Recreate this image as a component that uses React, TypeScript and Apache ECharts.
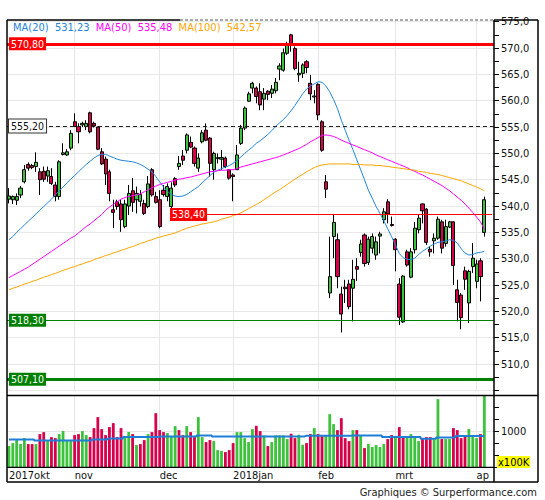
import React, { useEffect, useRef } from 'react';
import * as echarts from 'echarts';

// ---------- categories ----------
const FIRST_DAY = '2017-10-09';
const HOLIDAYS = ['2017-12-25', '2017-12-26', '2018-01-01', '2018-03-30', '2018-04-02'];
const SLOT_COUNT = 126; // 124 sessions + 2 empty slots on the right
const MONTH_LABELS: Record<string, string> = {
  '2017-10': '2017okt', '2017-11': 'nov', '2017-12': 'dec', '2018-01': '2018jan',
  '2018-02': 'feb', '2018-03': 'mrt', '2018-04': 'ap',
};

// ---------- price data: [open, close, low, high] ----------
const candles: number[][] = [
  [541.3, 541.9, 540.5, 543.4], [541.2, 541.8, 540.4, 542.0], [541.1, 541.8, 540.2, 542.4], [542.1, 543.4, 541.5, 543.8],
  [544.6, 546.9, 544.3, 547.8], [547.9, 547.2, 546.7, 548.3], [547.7, 547.3, 547.0, 548.0], [547.5, 548.3, 546.5, 550.2],
  [546.5, 545.0, 542.1, 547.2], [546.6, 545.1, 544.6, 547.5], [545.7, 546.7, 544.6, 547.5], [545.6, 544.3, 544.0, 547.2],
  [544.0, 541.8, 540.9, 544.6], [541.8, 548.4, 541.2, 548.7], [549.8, 550.1, 549.6, 551.9], [549.7, 550.3, 549.5, 550.8],
  [551.0, 553.8, 550.6, 554.4], [556.0, 555.1, 555.0, 557.6], [555.1, 554.1, 551.9, 555.7], [555.4, 555.7, 555.0, 556.0],
  [555.1, 555.7, 554.4, 556.3], [557.7, 554.1, 553.8, 557.9], [555.7, 555.2, 554.9, 556.0], [555.0, 550.8, 550.6, 555.1],
  [550.3, 548.0, 547.8, 551.0], [548.9, 546.1, 544.0, 549.4], [546.5, 542.4, 540.9, 546.9], [539.3, 538.8, 535.8, 541.2],
  [540.8, 539.9, 539.3, 541.2], [540.4, 537.4, 535.1, 541.2], [536.1, 540.4, 535.8, 541.2], [540.0, 542.4, 538.3, 544.0],
  [542.9, 540.7, 538.9, 545.3], [541.2, 542.4, 538.6, 543.7], [540.9, 542.2, 539.9, 543.0], [540.5, 538.6, 538.3, 541.2],
  [539.9, 544.2, 539.6, 545.7], [546.9, 542.1, 541.8, 547.2], [541.8, 540.7, 540.5, 542.7], [541.2, 536.1, 535.8, 543.0],
  [543.0, 542.2, 541.8, 544.0], [541.8, 543.7, 540.9, 544.3], [539.9, 543.4, 538.7, 544.5], [545.2, 544.0, 543.6, 545.5],
  [547.5, 548.1, 546.9, 549.5], [549.5, 548.7, 547.8, 550.6], [550.6, 553.5, 550.0, 553.8], [552.1, 551.2, 551.0, 553.2],
  [551.0, 548.1, 547.5, 551.3], [547.2, 549.1, 546.5, 550.0], [552.2, 553.9, 551.9, 554.4], [554.4, 552.5, 552.3, 555.7],
  [552.9, 548.1, 545.6, 553.1], [546.9, 550.0, 545.0, 550.3], [549.0, 549.2, 548.1, 550.0], [548.9, 549.2, 546.9, 550.6],
  [549.1, 547.5, 547.2, 549.4], [546.9, 545.3, 545.0, 547.0], [545.9, 545.6, 540.9, 546.2], [546.9, 549.7, 546.9, 551.6],
  [551.9, 554.8, 551.6, 555.4], [554.8, 558.6, 554.4, 558.9], [559.9, 561.3, 559.8, 561.7], [562.4, 563.3, 561.4, 563.6],
  [562.4, 560.8, 559.5, 562.7], [561.7, 559.2, 558.2, 563.3], [560.3, 561.4, 558.2, 562.4], [561.8, 561.2, 560.1, 562.0],
  [561.4, 562.2, 560.5, 563.0], [561.9, 563.5, 561.4, 564.3], [566.0, 566.6, 563.9, 567.1], [565.8, 569.1, 565.5, 569.9],
  [569.0, 570.6, 568.7, 571.2], [572.5, 570.6, 569.3, 572.7], [569.9, 566.1, 565.8, 570.3], [564.9, 565.2, 563.6, 567.4],
  [565.2, 566.8, 564.3, 567.1], [567.4, 566.3, 565.2, 567.7], [563.3, 561.3, 560.1, 564.9], [560.7, 560.9, 559.5, 562.0],
  [563.1, 557.3, 556.3, 563.3], [556.0, 550.6, 550.3, 556.3], [544.6, 543.2, 541.5, 545.9], [523.5, 526.6, 522.5, 534.2],
  [534.2, 536.9, 530.1, 538.3], [533.6, 526.6, 524.4, 534.8], [523.3, 519.5, 516.0, 524.7], [524.6, 524.3, 521.6, 526.0],
  [525.2, 520.9, 520.4, 526.0], [524.4, 526.1, 518.1, 529.8], [528.5, 528.0, 525.8, 530.1], [531.2, 532.8, 530.4, 533.6],
  [534.5, 529.1, 528.5, 534.8], [529.3, 533.7, 528.8, 534.2], [532.0, 534.2, 531.0, 534.8], [530.7, 533.2, 529.8, 534.2],
  [534.3, 534.7, 531.0, 535.1], [537.4, 538.9, 536.7, 539.6], [540.8, 538.5, 536.7, 541.3], [536.5, 536.3, 536.1, 538.0],
  [533.7, 531.7, 527.6, 533.9], [525.2, 518.9, 517.4, 526.3], [518.0, 526.7, 517.8, 526.9], [531.3, 528.8, 528.5, 531.7],
  [526.5, 531.3, 526.3, 532.0], [531.7, 535.8, 531.0, 537.0], [535.5, 537.7, 534.8, 538.3], [540.4, 539.1, 536.7, 540.5],
  [539.4, 533.1, 532.6, 539.6], [531.8, 531.3, 530.4, 532.3], [533.4, 533.9, 531.0, 534.8], [533.9, 537.5, 533.6, 538.0],
  [537.0, 532.0, 531.0, 537.4], [532.9, 536.1, 532.3, 537.4], [536.0, 537.0, 535.8, 537.2], [537.0, 528.7, 525.0, 537.1],
  [524.1, 521.7, 518.1, 526.0], [523.1, 518.8, 516.6, 523.5], [527.7, 526.1, 524.1, 528.5], [521.6, 527.6, 517.8, 527.9],
  [528.5, 530.1, 527.3, 533.0], [525.7, 529.0, 524.4, 529.8], [529.6, 526.6, 521.9, 530.1], [535.0, 541.2, 534.2, 541.8],
];

const ma20 = [
  533.6, 534.2, 535.0, 535.7, 536.4, 537.1, 537.8, 538.5, 539.2, 539.9,
  540.6, 541.3, 542.1, 542.9, 543.6, 544.4, 545.1, 545.8, 546.5, 547.2,
  547.9, 548.5, 549.1, 549.6, 549.8, 549.8, 549.5, 549.2, 548.9, 548.7,
  548.6, 548.5, 548.4, 548.2, 547.9, 547.5, 547.0, 546.5, 545.6, 544.6,
  543.6, 542.8, 542.2, 541.9, 541.8, 541.9, 542.2, 542.7, 543.2, 543.7,
  544.4, 545.1, 545.8, 546.4, 546.8, 547.1, 547.4, 547.7, 548.1, 548.7,
  549.3, 550.0, 550.6, 551.2, 551.9, 552.4, 553.0, 553.6, 554.3, 555.1,
  555.8, 556.4, 557.2, 558.1, 559.1, 560.2, 561.3, 562.2, 562.8, 563.2,
  563.6, 563.5, 562.8, 561.7, 560.2, 558.5, 556.3, 554.4, 552.5, 550.7,
  548.8, 546.9, 545.0, 543.0, 541.5, 539.9, 538.6, 537.2, 535.7, 534.2,
  532.6, 531.0, 530.2, 529.9, 529.8, 530.1, 530.8, 531.4, 531.9, 532.4,
  532.8, 533.1, 533.2, 533.4, 533.6, 533.5, 533.0, 531.9, 531.1, 530.7,
  530.8, 531.1, 531.2, 531.4,
];
const ma50 = [
  526.4, 526.8, 527.2, 527.6, 528.0, 528.4, 528.9, 529.4, 529.9, 530.4,
  530.9, 531.4, 531.9, 532.4, 532.9, 533.4, 533.9, 534.3, 534.9, 535.5,
  536.1, 536.6, 537.2, 537.8, 538.4, 539.2, 539.8, 540.3, 540.8, 541.3,
  541.6, 541.8, 542.0, 542.1, 542.3, 542.7, 543.1, 543.5, 543.8, 544.1,
  544.3, 544.5, 544.7, 544.9, 545.1, 545.2, 545.4, 545.5, 545.7, 545.9,
  546.1, 546.3, 546.5, 546.6, 546.7, 546.8, 546.8, 546.9, 546.9, 547.1,
  547.4, 547.6, 547.8, 548.0, 548.2, 548.4, 548.6, 548.8, 549.0, 549.2,
  549.4, 549.7, 550.0, 550.3, 550.6, 550.9, 551.3, 551.7, 552.2, 552.6,
  553.0, 553.4, 553.5, 553.4, 553.2, 552.9, 552.5, 552.2, 551.9, 551.6,
  551.3, 551.0, 550.7, 550.4, 550.1, 549.7, 549.4, 549.1, 548.8, 548.5,
  548.2, 547.9, 547.6, 547.3, 546.9, 546.6, 546.2, 545.9, 545.5, 545.1,
  544.7, 544.3, 543.9, 543.4, 542.9, 542.3, 541.7, 541.1, 540.4, 539.6,
  538.8, 537.9, 537.0, 535.6,
];
const ma100 = [
  524.1, 524.4, 524.6, 524.9, 525.2, 525.4, 525.7, 525.9, 526.2, 526.5,
  526.7, 527.0, 527.2, 527.5, 527.8, 528.0, 528.3, 528.5, 528.8, 529.0,
  529.3, 529.5, 529.8, 530.1, 530.3, 530.6, 530.8, 531.1, 531.3, 531.6,
  531.8, 532.1, 532.3, 532.6, 532.9, 533.1, 533.4, 533.6, 533.9, 534.1,
  534.3, 534.5, 534.7, 534.9, 535.2, 535.5, 535.8, 536.0, 536.2, 536.4,
  536.6, 536.7, 536.9, 537.0, 537.2, 537.5, 537.7, 537.9, 538.2, 538.4,
  538.7, 539.1, 539.5, 539.9, 540.3, 540.7, 541.2, 541.7, 542.2, 542.7,
  543.1, 543.6, 544.1, 544.6, 545.1, 545.6, 546.0, 546.5, 546.9, 547.3,
  547.6, 547.8, 547.9, 548.0, 548.0, 548.0, 548.0, 548.0, 548.0, 547.9,
  547.9, 547.9, 547.8, 547.8, 547.8, 547.7, 547.7, 547.6, 547.5, 547.4,
  547.3, 547.2, 547.1, 547.0, 546.9, 546.8, 546.6, 546.5, 546.4, 546.2,
  546.1, 546.0, 545.8, 545.6, 545.4, 545.2, 545.0, 544.8, 544.5, 544.2,
  543.9, 543.6, 543.3, 542.9,
];

// ---------- volume (x100K) ----------
const volume = [
  694, 756, 826, 735, 860, 735, 735, 735, 944, 985,
  798, 881, 860, 944, 1006, 798, 798, 923, 944, 1006,
  923, 881, 1069, 1298, 1048, 923, 1090, 1173, 881, 1069,
  902, 985, 944, 715, 735, 819, 944, 985, 1381, 1027,
  985, 965, 902, 1110, 1027, 923, 1110, 985, 902, 1298,
  881, 777, 819, 798, 610, 590, 569, 610, 756, 985,
  985, 860, 777, 1048, 1117, 1006, 916, 694, 777, 916,
  916, 916, 840, 951, 860, 930, 722, 756, 944, 1069,
  944, 916, 916, 1360, 1152, 1027, 1277, 860, 798, 1027,
  1027, 916, 652, 735, 673, 715, 673, 735, 840, 923,
  881, 1090, 881, 881, 944, 881, 798, 840, 881, 881,
  840, 1673, 840, 840, 840, 1069, 1027, 860, 923, 1048,
  902, 860, 944, 1750,
];
const volumeUp = [
  1, 1, 1, 1, 1, 0, 0, 1, 0, 0,
  1, 0, 0, 1, 1, 1, 1, 0, 0, 1,
  1, 0, 0, 0, 0, 0, 0, 0, 0, 0,
  1, 1, 0, 1, 0, 0, 1, 0, 0, 0,
  0, 1, 1, 1, 0, 0, 1, 0, 0, 1,
  1, 0, 0, 1, 1, 1, 0, 0, 0, 1,
  1, 1, 1, 1, 0, 0, 1, 0, 1, 1,
  1, 1, 1, 0, 0, 1, 1, 0, 0, 1,
  0, 0, 1, 1, 1, 0, 0, 0, 0, 1,
  0, 1, 0, 1, 1, 1, 1, 1, 0, 0,
  1, 0, 0, 1, 1, 1, 1, 0, 0, 0,
  1, 1, 0, 1, 1, 0, 0, 0, 0, 1,
  1, 1, 0, 1,
];
const volumeAvg = [
  833, 833, 833, 833, 833, 833, 833, 812, 812, 812,
  812, 812, 812, 812, 812, 812, 812, 812, 812, 812,
  812, 812, 833, 833, 833, 833, 853, 853, 853, 853,
  881, 881, 881, 881, 881, 881, 881, 881, 881, 895,
  895, 895, 895, 895, 895, 895, 895, 895, 895, 916,
  916, 916, 916, 895, 895, 895, 895, 895, 895, 895,
  895, 895, 895, 895, 895, 895, 895, 895, 895, 895,
  895, 895, 895, 895, 895, 895, 895, 909, 909, 909,
  909, 909, 909, 909, 909, 909, 909, 909, 909, 916,
  916, 916, 916, 916, 916, 916, 916, 881, 881, 881,
  881, 881, 881, 881, 881, 881, 881, 846, 846, 846,
  846, 874, 874, 874, 874, 874, 902, 902, 902, 902,
  902, 902, 902, 902,
];

// ---------- legend & levels ----------
const maNames = ['MA(20)', 'MA(50)', 'MA(100)'];
const maLast = ['531,23', '535,48', '542,57'];
const levels = [570.8, 555.2, 538.4, 518.3, 507.1];
const levelLabels = ['570,80', '555,20', '538,40', '518,30', '507,10'];
const partialLevelStart = 51; // session index where the 538,40 line begins
const footer = 'Graphiques © Surperformance.com';
const volumeUnit = 'x100K';

const GREEN = '#3cc23c';
const RED = '#d8004a';
const BLUE = '#2284d8';
const MAGENTA = '#ff00ff';
const ORANGE = '#ffa500';
const LEVEL_RED = '#ff0000';
const LEVEL_GREEN = '#008000';
const FONT = "'DejaVu Sans Condensed', 'DejaVu Sans', sans-serif";

function tradingDays(start: string, n: number, holidays: string[]): string[] {
  const out: string[] = [];
  const d = new Date(start + 'T00:00:00Z');
  while (out.length < n) {
    const dow = d.getUTCDay();
    const s = d.toISOString().slice(0, 10);
    if (dow !== 0 && dow !== 6 && holidays.indexOf(s) < 0) out.push(s);
    d.setUTCDate(d.getUTCDate() + 1);
  }
  return out;
}

export default function App() {
  const ref = useRef<HTMLDivElement>(null);

  useEffect(() => {
    document.body.style.margin = '0';
    const el = ref.current;
    if (!el) return;
    const chart = echarts.init(el, null, { renderer: 'svg' });

    const cats = tradingDays(FIRST_DAY, SLOT_COUNT, HOLIDAYS);
    const monthStarts: number[] = [];
    cats.forEach((c, i) => {
      if (i > 0 && c.slice(0, 7) !== cats[i - 1].slice(0, 7)) monthStarts.push(i);
    });
    const labelIdx = new Set<number>([0, ...monthStarts]);
    const monthLines = monthStarts.map((i) => ({ xAxis: cats[i] }));
    const gridLineStyle = { color: '#e6e6e6', width: 1, type: 'solid' as const };

    const option: any = {
      animation: false,
      textStyle: { fontFamily: FONT },
      grid: [
        { left: 7, right: 51, top: 21.7, height: 368.7 },
        { left: 7, right: 51, top: 395.5, height: 71.8 },
      ],
      xAxis: [
        {
          type: 'category', gridIndex: 0, data: cats, boundaryGap: true,
          axisLine: { show: false }, axisTick: { show: false }, axisLabel: { show: false }, splitLine: { show: false },
        },
        {
          type: 'category', gridIndex: 1, data: cats, boundaryGap: true,
          axisLine: { show: false }, axisTick: { show: false }, splitLine: { show: false },
          axisLabel: {
            interval: (i: number) => labelIdx.has(i),
            formatter: (v: string) => MONTH_LABELS[v.slice(0, 7)] || '',
            align: 'left', fontSize: 11, color: '#111', margin: 3, fontFamily: FONT,
          },
        },
      ],
      yAxis: [
        {
          type: 'value', gridIndex: 0, position: 'right', min: 505, max: 575, interval: 5,
          axisLine: { show: false },
          axisTick: { show: true, length: 5, lineStyle: { color: '#000' } },
          minorTick: { show: true, splitNumber: 2, length: 5, lineStyle: { color: '#000' } },
          splitLine: { show: true, lineStyle: { color: '#e8e8e8', width: 1 } },
          axisLabel: {
            formatter: (v: number) => (v === 505 ? '' : v.toFixed(1).replace('.', ',')),
            fontSize: 11, color: '#111', margin: 7, fontFamily: FONT,
          },
        },
        {
          type: 'value', gridIndex: 1, position: 'right', min: 250, max: 1750, interval: 250,
          axisLine: { show: false },
          axisTick: { show: true, length: 5, lineStyle: { color: '#000' } },
          splitLine: { show: false },
          axisLabel: {
            formatter: (v: number) => (v === 1000 ? String(v) : ''),
            fontSize: 11, color: '#111', margin: 7, fontFamily: FONT,
          },
        },
      ],
      series: [
        {
          type: 'candlestick', xAxisIndex: 0, yAxisIndex: 0, barWidth: 3.6,
          data: candles,
          itemStyle: { color: GREEN, color0: RED, borderColor: '#000', borderColor0: '#000', borderWidth: 1 },
          markLine: {
            silent: true, symbol: 'none', z: 1, label: { show: false },
            lineStyle: gridLineStyle, data: monthLines,
          },
        },
        { type: 'line', xAxisIndex: 0, yAxisIndex: 0, data: ma20, symbol: 'none', lineStyle: { color: BLUE, width: 1 } },
        { type: 'line', xAxisIndex: 0, yAxisIndex: 0, data: ma50, symbol: 'none', lineStyle: { color: MAGENTA, width: 1 } },
        {
          type: 'line', xAxisIndex: 0, yAxisIndex: 0, data: ma100, symbol: 'none', lineStyle: { color: ORANGE, width: 1 },
          markLine: {
            silent: true, symbol: 'none', label: { show: false },
            data: [
              { yAxis: levels[0], lineStyle: { color: LEVEL_RED, width: 3, type: 'solid' } },
              { yAxis: levels[1], lineStyle: { color: '#222', width: 1, type: [4, 3] } },
              [
                { xAxis: cats[partialLevelStart], yAxis: levels[2], lineStyle: { color: LEVEL_RED, width: 1, type: 'solid' } },
                { xAxis: cats[SLOT_COUNT - 1], yAxis: levels[2] },
              ],
              { yAxis: levels[3], lineStyle: { color: LEVEL_GREEN, width: 1, type: 'solid' } },
              { yAxis: levels[4], lineStyle: { color: LEVEL_GREEN, width: 3, type: 'solid' } },
            ],
          },
        },
        {
          type: 'bar', xAxisIndex: 1, yAxisIndex: 1, barWidth: 2.8,
          data: volume.map((v, i) => ({ value: v, itemStyle: { color: volumeUp[i] ? GREEN : RED } })),
          markLine: {
            silent: true, symbol: 'none', z: 1, label: { show: false },
            lineStyle: gridLineStyle, data: [...monthLines, { yAxis: 1000 }],
          },
        },
        {
          type: 'line', xAxisIndex: 1, yAxisIndex: 1, data: volumeAvg, symbol: 'none', step: 'middle',
          lineStyle: { color: '#1f7fd6', width: 2 },
        },
      ],
    };
    chart.setOption(option);

    const py = (v: number) => chart.convertToPixel({ yAxisIndex: 0 }, v) as number;
    const px = (c: string) => chart.convertToPixel({ xAxisIndex: 0 }, c) as number;

    const line = (x1: number, y1: number, x2: number, y2: number, w = 1.5, dash?: number[], color = '#000') => ({
      type: 'line', silent: true, z: 50,
      shape: { x1, y1, x2, y2 },
      style: { stroke: color, lineWidth: w, lineDash: dash },
    });

    const box = (text: string, x: number, y: number, bg: string, fg: string, align: string, border?: string) => ({
      type: 'text', silent: true, z: 60, x, y,
      style: {
        text, fill: fg, fontSize: 10.5, fontFamily: FONT,
        backgroundColor: bg, padding: [1, 2, 1, 2],
        borderColor: border, borderWidth: border ? 1 : 0,
        align, verticalAlign: 'middle',
      },
    });

    const levelBoxes = levels.map((lv, i) => {
      const y = py(lv);
      if (i === 2) return box(levelLabels[i], px(cats[partialLevelStart]) + 1, y, LEVEL_RED, '#fff', 'right');
      if (i === 1) return box(levelLabels[i], 9, y, '#fff', '#111', 'left', '#333');
      return box(levelLabels[i], 9, y, i === 0 ? LEVEL_RED : LEVEL_GREEN, '#fff', 'left');
    });

    const maColors = [BLUE, MAGENTA, ORANGE];
    const legendText = maNames.map((n, i) => `{m${i}|${n}}  {m${i}|${maLast[i]}}`).join('  ');
    const rich: any = {};
    maColors.forEach((c, i) => { rich['m' + i] = { fill: c, color: c, fontSize: 11, fontFamily: FONT }; });

    chart.setOption({
      graphic: [
        line(7, 20, 180, 20),
        line(180, 20, 494, 20, 1, [3, 2], '#555'),
        line(494, 20, 538, 20),
        line(7, 20, 7, 482),
        line(494, 20, 494, 482),
        line(538, 20, 538, 482),
        line(7, 395.5, 538, 395.5),
        line(7, 467.3, 494, 467.3, 1.2),
        line(7, 482, 538, 482),
        ...levelBoxes,
        {
          type: 'text', silent: true, z: 60, x: 13, y: 27,
          style: { text: legendText, rich, fontSize: 11, fontFamily: FONT, verticalAlign: 'middle' },
        },
        {
          type: 'text', silent: true, z: 60, x: 497, y: 462,
          style: {
            text: volumeUnit, fill: '#000', fontSize: 11, fontFamily: FONT,
            backgroundColor: '#ffff00', padding: [1, 1, 0, 1], align: 'left', verticalAlign: 'middle',
          },
        },
        {
          type: 'text', silent: true, z: 60, x: 537, y: 492,
          style: { text: footer, fill: '#222', fontSize: 11, fontFamily: FONT, align: 'right', verticalAlign: 'middle' },
        },
      ],
    });

    return () => chart.dispose();
  }, []);

  return <div ref={ref} style={{ width: 545, height: 500 }} />;
}
